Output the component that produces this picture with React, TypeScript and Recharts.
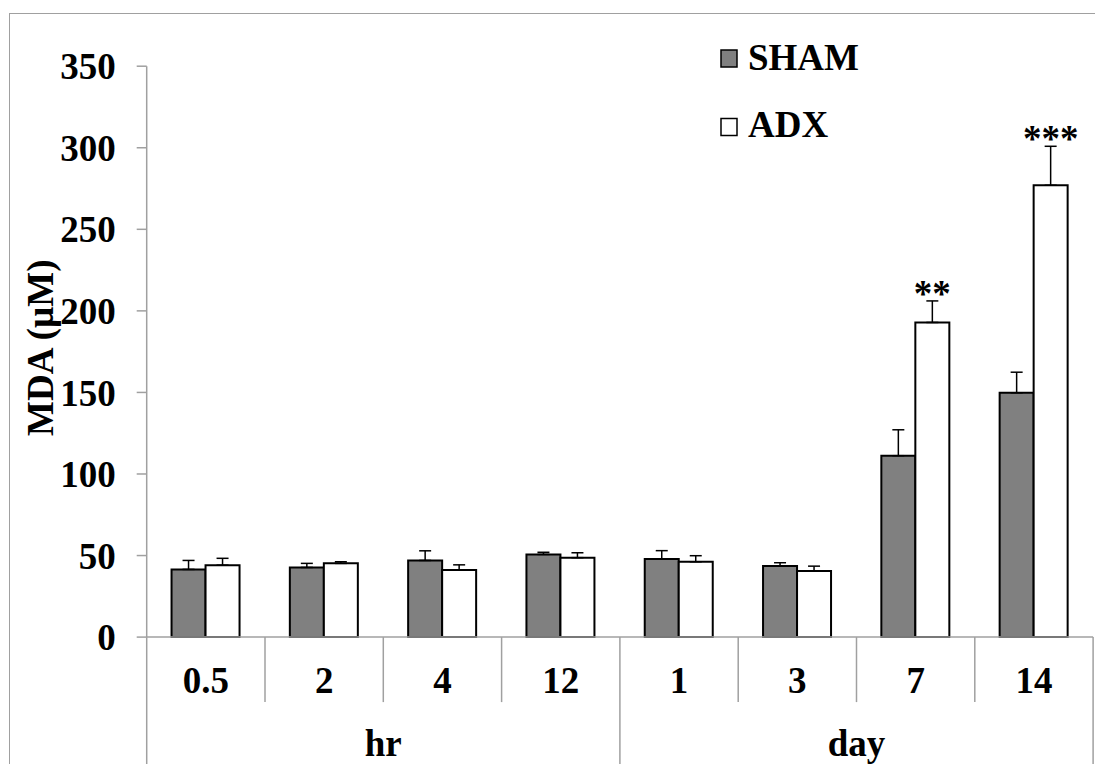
import React from "react";
import { BarChart, Bar, XAxis, YAxis, ErrorBar, Legend, LabelList, Label } from "recharts";

// time points, grouped into hours and days on a two-level axis
const CATEGORIES = ["0.5", "2", "4", "12", "1", "3", "7", "14"];
const GROUPS = [
  { label: "hr", start: 0, count: 4 },
  { label: "day", start: 4, count: 4 },
];

const SERIES = ["SHAM", "ADX"];
const SHAM = [41.5, 42.7, 47.0, 50.7, 47.9, 43.6, 111.2, 149.8];
const SHAM_SEM = [5.5, 2.5, 5.9, 1.3, 5.1, 2.0, 15.9, 12.6];
const ADX = [44.1, 45.2, 41.1, 48.7, 46.2, 40.5, 192.9, 277.0];
const ADX_SEM = [4.2, 1.0, 3.2, 3.0, 3.7, 3.0, 13.2, 23.9];
const SIGNIF = ["", "", "", "", "", "", "**", "***"];

const Y_TICKS = [0, 50, 100, 150, 200, 250, 300, 350];

const FONT = '"Liberation Serif", "Times New Roman", serif';
const LINE = "#a0a0a0";
const FILLS = ["#808080", "#ffffff"];

const data = CATEGORIES.map((c, i) => ({
  time: c,
  sham: SHAM[i],
  shamErr: [0, SHAM_SEM[i]],
  adx: ADX[i],
  adxErr: [0, ADX_SEM[i]],
  sig: SIGNIF[i],
}));

function CategoryTick(props: any) {
  const { x, y, payload, index, visibleTicksCount } = props;
  const half = payload.offset;
  const left = x - half;
  const right = x + half;
  const group = GROUPS.find((g) => g.start === index);
  const last = index === visibleTicksCount - 1;
  return (
    <g>
      <line x1={left} x2={left} y1={y} y2={y + 140} stroke={LINE} strokeWidth={1.5} strokeOpacity={group ? 1 : 0} />
      {!group && <line x1={left} x2={left} y1={y} y2={y + 65} stroke={LINE} strokeWidth={1.5} />}
      {last && <line x1={right} x2={right} y1={y} y2={y + 140} stroke={LINE} strokeWidth={1.5} />}
      <text x={x} y={y + 55.6} textAnchor="middle" fontFamily={FONT} fontWeight="bold" fontSize={37} fill="#000">
        {payload.value}
      </text>
      {group && (
        <text x={left + group.count * half} y={y + 119} textAnchor="middle" fontFamily={FONT} fontWeight="bold" fontSize={37} fill="#000">
          {group.label}
        </text>
      )}
    </g>
  );
}

function SigLabel(props: any) {
  const { x, y, width, height, index } = props;
  const text = SIGNIF[index];
  if (!text) return null;
  const pxPerUnit = height / ADX[index];
  const top = y - ADX_SEM[index] * pxPerUnit;
  return (
    <text x={x + width / 2} y={top + 5} textAnchor="middle" fontFamily={FONT} fontSize={37} fontWeight="bold" fill="#000">
      {text}
    </text>
  );
}

function LegendBox(props: any) {
  const { payload = [] } = props;
  const items = SERIES.map((name) => payload.find((p: any) => p.value === name)).filter(Boolean);
  return (
    <svg width={200} height={130}>
      {items.map((entry: any, i: number) => (
        <g key={entry.value}>
          <rect x={5} y={20 + i * 68.5} width={16} height={17} fill={FILLS[SERIES.indexOf(entry.value)]} stroke="#000" strokeWidth={1.5} />
          <text x={32} y={40 + i * 67.3} fontFamily={FONT} fontWeight="bold" fontSize={37} fill="#000">
            {entry.value}
          </text>
        </g>
      ))}
    </svg>
  );
}

function YTitle(props: any) {
  const { viewBox } = props;
  const cx = viewBox.x + 53;
  const cy = viewBox.y + viewBox.height / 2 - 4;
  return (
    <text x={cx} y={cy} transform={`rotate(-90, ${cx}, ${cy})`} textAnchor="middle" fontFamily={FONT} fontWeight="bold" fontSize={37} fill="#000">
      MDA (µM)
    </text>
  );
}

export default function App() {
  return (
    <div style={{ position: "relative", width: 1095, height: 764, overflow: "hidden", background: "#fff" }}>
      <style>{"body{margin:0;overflow:hidden}"}</style>
      <div
        style={{
          position: "absolute",
          left: 9,
          top: 13,
          width: 1200,
          height: 900,
          borderLeft: `1.5px solid ${LINE}`,
          borderTop: `1.5px solid ${LINE}`,
        }}
      />
      <BarChart
        width={1095}
        height={764}
        data={data}
        margin={{ top: 66.2, right: 1.9, left: 0, bottom: 0 }}
        barCategoryGap="21%"
        barGap={0}
      >
        <XAxis
          dataKey="time"
          interval={0}
          height={126.9}
          tickSize={0}
          tickMargin={0}
          tickLine={false}
          axisLine={{ stroke: LINE, strokeWidth: 1.5 }}
          tick={<CategoryTick />}
        />
        <YAxis
          width={146.7}
          domain={[0, 350]}
          ticks={Y_TICKS}
          interval={0}
          tickSize={10}
          tickMargin={21}
          axisLine={{ stroke: LINE, strokeWidth: 1.5 }}
          tickLine={{ stroke: LINE, strokeWidth: 1.5 }}
          tick={{ fontFamily: FONT, fontSize: 37, fontWeight: "bold", fill: "#000" }}
        >
          <Label content={<YTitle />} />
        </YAxis>
        <Legend
          layout="vertical"
          align="center"
          verticalAlign="middle"
          wrapperStyle={{ left: 716, top: 30, width: 200, height: 130 }}
          content={<LegendBox />}
        />
        <Bar dataKey="sham" name="SHAM" fill={FILLS[0]} stroke="#000" strokeWidth={2} isAnimationActive={false}>
          <ErrorBar dataKey="shamErr" width={6} stroke="#000" strokeWidth={1.5} />
        </Bar>
        <Bar dataKey="adx" name="ADX" fill={FILLS[1]} stroke="#000" strokeWidth={2} isAnimationActive={false}>
          <ErrorBar dataKey="adxErr" width={6} stroke="#000" strokeWidth={1.5} />
          <LabelList dataKey="sig" content={<SigLabel />} />
        </Bar>
      </BarChart>
    </div>
  );
}
